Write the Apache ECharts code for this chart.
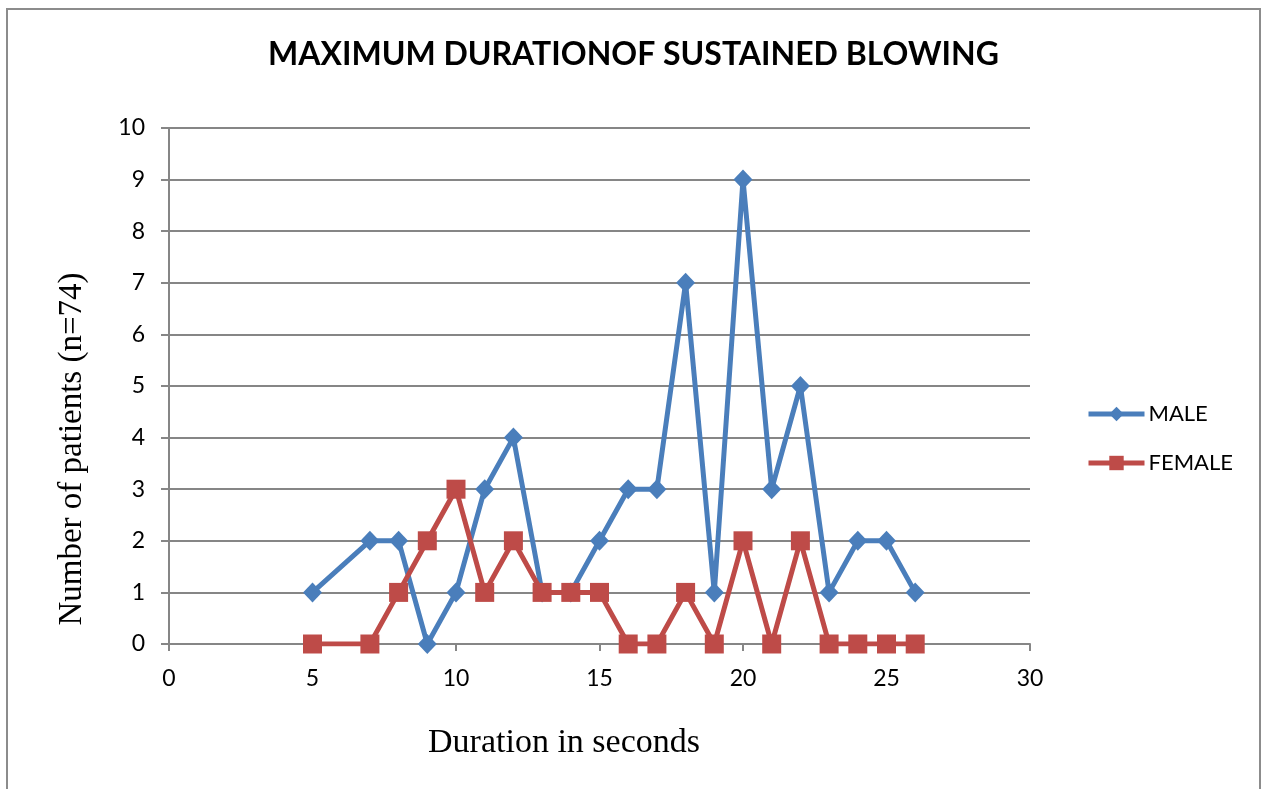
<!DOCTYPE html>
<html>
<head>
<meta charset="utf-8">
<script src="https://cdn.jsdelivr.net/npm/echarts@6/dist/echarts.min.js"></script>
<style>
  html, body { margin: 0; padding: 0; background: #fff; }
  #chart { width: 1267px; height: 789px; }
</style>
</head>
<body>
<div id="chart"></div>
<script>
// Duration of sustained blowing (seconds) and number of patients at each duration
const durations = [5, 7, 8, 9, 10, 11, 12, 13, 14, 15, 16, 17, 18, 19, 20, 21, 22, 23, 24, 25, 26];
const maleCounts = [1, 2, 2, 0, 1, 3, 4, 1, 1, 2, 3, 3, 7, 1, 9, 3, 5, 1, 2, 2, 1];
const femaleCounts = [0, 0, 1, 2, 3, 1, 2, 1, 1, 1, 0, 0, 1, 0, 2, 0, 2, 0, 0, 0, 0];
const xTicks = [0, 5, 10, 15, 20, 25, 30];
const yTicks = [0, 1, 2, 3, 4, 5, 6, 7, 8, 9, 10];

const chart = echarts.init(document.getElementById('chart'));

const axisGray = '#868686';
const labelFont = 'Lato, "Open Sans", sans-serif';
const serifFont = '"Liberation Serif", "DejaVu Serif", serif';

const pairs = (ys) => durations.map((d, i) => [d, ys[i]]);

chart.setOption({
  animation: false,
  backgroundColor: '#ffffff',
  title: {
    text: 'MAXIMUM DURATIONOF SUSTAINED BLOWING',
    left: 'center',
    top: 34,
    textStyle: { fontFamily: labelFont, fontWeight: 'bold', fontSize: 32, color: '#000' }
  },
  legend: {
    orient: 'vertical',
    left: 1081,
    top: 398,
    padding: 5,
    itemWidth: 56,
    itemHeight: 18,
    itemGap: 27,
    lineStyle: { width: 5 },
    textStyle: { fontFamily: labelFont, fontSize: 22, color: '#000', padding: [0, 0, 0, -1] },
    data: ['MALE', 'FEMALE']
  },
  grid: { left: 169, right: 237, top: 128, bottom: 145, containLabel: false },
  xAxis: {
    type: 'value',
    min: xTicks[0],
    max: xTicks[xTicks.length - 1],
    interval: xTicks[1] - xTicks[0],
    axisLine: { show: true, lineStyle: { color: axisGray, width: 2 } },
    axisTick: { show: true, length: 7, lineStyle: { color: axisGray, width: 2 } },
    splitLine: { show: false },
    axisLabel: { margin: 23, fontFamily: labelFont, fontSize: 23, color: '#000' }
  },
  yAxis: {
    type: 'value',
    min: yTicks[0],
    max: yTicks[yTicks.length - 1],
    interval: yTicks[1] - yTicks[0],
    axisLine: { show: true, lineStyle: { color: axisGray, width: 2 } },
    axisTick: { show: true, length: 8, lineStyle: { color: axisGray, width: 2 } },
    splitLine: { show: true, lineStyle: { color: axisGray, width: 2 } },
    axisLabel: { margin: 24, fontFamily: labelFont, fontSize: 23, color: '#000' }
  },
  graphic: [
    {
      type: 'rect',
      shape: { x: 7, y: 9, width: 1253, height: 800 },
      style: { fill: 'none', stroke: '#8c8c8c', lineWidth: 2 },
      silent: true, z: -1
    },
    {
      type: 'text',
      x: 564, y: 743,
      style: {
        text: 'Duration in seconds',
        font: '34px ' + serifFont,
        fill: '#000',
        textAlign: 'center',
        textVerticalAlign: 'middle'
      }
    },
    {
      type: 'text',
      x: 72, y: 449,
      rotation: Math.PI / 2,
      style: {
        text: 'Number of patients (n=74)',
        font: '33px ' + serifFont,
        fill: '#000',
        textAlign: 'center',
        textVerticalAlign: 'middle'
      }
    }
  ],
  series: [
    {
      name: 'MALE',
      type: 'line',
      data: pairs(maleCounts),
      symbol: 'diamond',
      symbolSize: [19, 20],
      color: '#4a7ebb',
      itemStyle: { color: '#4a7ebb' },
      lineStyle: { color: '#4a7ebb', width: 5 },
      z: 3
    },
    {
      name: 'FEMALE',
      type: 'line',
      data: pairs(femaleCounts),
      symbol: 'rect',
      symbolSize: 19,
      color: '#be4b48',
      itemStyle: { color: '#be4b48' },
      lineStyle: { color: '#be4b48', width: 5 },
      z: 4
    }
  ]
});
</script>
</body>
</html>
